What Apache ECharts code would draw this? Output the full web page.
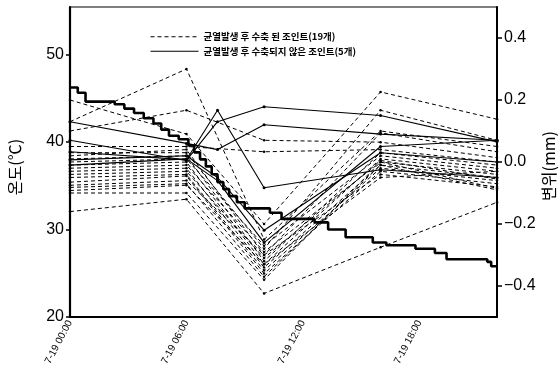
<!DOCTYPE html>
<html>
<head>
<meta charset="utf-8">
<script src="https://cdn.jsdelivr.net/npm/echarts@6/dist/echarts.min.js"></script>
<style>
  html, body { margin: 0; padding: 0; background: #fff; }
  #chart { width: 560px; height: 376px; }
</style>
</head>
<body>
<div id="chart"></div>
<script>
// Measurement hours (7-19 00:00 = 0)
const jointHours = [0, 6, 10, 16, 22];
const solidHours = [0, 6, 7.6, 10, 16, 22];

// Joint displacement (mm): shrank after cracking (19 joints)
const shrunkJoints = [
  [0.13, 0.30, -0.25, 0.10, 0.05],
  [0.20, 0.09, -0.20, 0.226, 0.138],
  [0.10, 0.167, 0.07, 0.064, 0.014],
  [0.05, 0.05, 0.033, 0.04, 0.0],
  [0.03, 0.03, -0.28, 0.167, 0.07],
  [0.02, 0.04, -0.30, 0.094, 0.033],
  [0.01, 0.02, -0.32, 0.03, -0.01],
  [0.0, 0.01, -0.27, 0.02, -0.02],
  [-0.01, 0.0, -0.33, 0.01, -0.03],
  [-0.02, -0.01, -0.29, 0.0, -0.04],
  [-0.03, -0.02, -0.34, -0.01, -0.05],
  [-0.04, -0.03, -0.31, 0.005, -0.055],
  [-0.05, -0.04, -0.35, -0.02, -0.06],
  [-0.065, -0.045, -0.36, -0.03, -0.07],
  [-0.075, -0.06, -0.30, -0.04, -0.08],
  [-0.082, -0.07, -0.37, -0.01, -0.09],
  [-0.092, -0.075, -0.33, -0.05, -0.03],
  [-0.10, -0.10, -0.38, 0.0, -0.085],
  [-0.16, -0.12, -0.424, -0.275, -0.13]
];

// Joint displacement (mm): did not shrink after cracking (5 joints)
const unshrunkJoints = [
  [0.13, 0.06, 0.04, 0.12, 0.09, 0.07],
  [0.07, 0.005, 0.13, 0.178, 0.15, 0.065],
  [0.033, 0.007, 0.167, -0.083, -0.025, -0.05],
  [0.007, 0.02, -0.05, -0.22, 0.03, 0.0],
  [-0.01, 0.01, -0.06, -0.26, 0.05, 0.07]
];

// Air temperature (°C), stepped record
const tempHours = [0.0, 0.4, 0.8, 2.3, 2.8, 3.3, 3.8, 4.3, 4.7, 5.1, 5.6, 6.1, 6.4, 6.7, 7.0, 7.3, 7.6, 7.9, 8.2, 8.6, 9.0,
                   10.3, 10.9, 12.6, 13.3, 14.2, 15.6, 16.3, 17.8, 18.8, 19.4, 21.5, 21.7, 22.0];
const tempValues = [46.2, 45.6, 44.6, 44.3, 43.8, 43.3, 42.7, 42.1, 41.4, 40.7, 40.3, 39.6, 38.8, 38.0, 37.2, 36.3, 35.4, 34.6, 33.8, 33.1, 32.4,
                    31.9, 31.2, 30.8, 30.0, 29.1, 28.5, 28.2, 27.8, 27.3, 26.6, 26.3, 25.8, 25.8];

const timeTicks = [0, 6, 12, 18];
const timeLabels = ['7-19 00:00', '7-19 06:00', '7-19 12:00', '7-19 18:00'];
const tempTicks = [20, 30, 40, 50];
const dispTicks = [-0.4, -0.2, 0.0, 0.2, 0.4];

const NAME_SHRUNK = '균열발생 후 수축 된 조인트(19개)';
const NAME_UNSHRUNK = '균열발생 후 수축되지 않은 조인트(5개)';

const zip = (xs, ys) => xs.map((x, i) => [x, ys[i]]);

const series = [];
shrunkJoints.forEach(vals => {
  series.push({
    name: NAME_SHRUNK, type: 'line', yAxisIndex: 1,
    data: zip(jointHours, vals),
    symbol: 'circle', symbolSize: 2.5,
    itemStyle: { color: '#000' },
    lineStyle: { color: '#000', width: 1, type: [4, 3] },
    silent: true, animation: false
  });
});
unshrunkJoints.forEach(vals => {
  series.push({
    name: NAME_UNSHRUNK, type: 'line', yAxisIndex: 1,
    data: zip(solidHours, vals),
    symbol: 'circle', symbolSize: 3,
    itemStyle: { color: '#000' },
    lineStyle: { color: '#000', width: 1.1 },
    silent: true, animation: false
  });
});
series.push({
  name: '온도', type: 'line', yAxisIndex: 0,
  data: zip(tempHours, tempValues),
  step: 'end', symbol: 'none',
  lineStyle: { color: '#000', width: 2.6 },
  silent: true, animation: false
});

const font = 'Liberation Sans, Arial, sans-serif';
const kfont = '"Noto Sans CJK KR", sans-serif';

const chart = echarts.init(document.getElementById('chart'), null, { renderer: 'canvas' });
chart.setOption({
  backgroundColor: '#fff',
  animation: false,
  grid: {
    left: 70, right: 63, top: 7, bottom: 59,
    containLabel: false, outerBoundsMode: 'none',
    show: true, borderColor: '#000', borderWidth: 1.2, backgroundColor: 'transparent'
  },
  legend: {
    data: [NAME_SHRUNK, NAME_UNSHRUNK],
    orient: 'vertical', left: 145, top: 27,
    itemWidth: 48, itemHeight: 8, itemGap: 5,
    itemStyle: { opacity: 0 },
    lineStyle: { width: 1 },
    textStyle: { fontFamily: kfont, fontSize: 9.5, color: '#000', fontWeight: 'bold' },
    selectedMode: false
  },
  xAxis: {
    type: 'value', min: 0, max: 22,
    splitLine: { show: false },
    axisLine: { onZero: false, lineStyle: { color: '#000', width: 2.2 } },
    axisTick: { show: false },
    axisLabel: {
      customValues: timeTicks,
      formatter: v => timeLabels[timeTicks.indexOf(v)] || '',
      rotate: 62, fontSize: 10, color: '#000', fontFamily: font, margin: 4
    }
  },
  yAxis: [
    {
      type: 'value', min: 20, max: 55.4, position: 'left',
      name: '온도(℃)', nameLocation: 'middle', nameGap: 47, nameRotate: 90,
      nameMoveOverlap: false,
      nameTextStyle: { fontFamily: kfont, fontSize: 16, color: '#000', padding: [0, 10, 0, 0] },
      splitLine: { show: false },
      axisLine: { show: true, onZero: false, lineStyle: { color: '#000', width: 2.2 } },
      axisTick: { show: true, customValues: tempTicks, length: 4, lineStyle: { color: '#000', width: 1.5 } },
      axisLabel: { customValues: tempTicks, fontSize: 16, color: '#000', fontFamily: font, margin: 6 }
    },
    {
      type: 'value', min: -0.5, max: 0.5, position: 'right',
      name: '변위(mm)', nameLocation: 'middle', nameGap: 44, nameRotate: 90,
      nameMoveOverlap: false,
      nameTextStyle: { fontFamily: kfont, fontSize: 16, color: '#000', padding: [0, 8, 0, 0] },
      splitLine: { show: false },
      axisLine: { show: true, onZero: false, lineStyle: { color: '#000', width: 2 } },
      axisTick: { show: true, customValues: dispTicks, length: 5, lineStyle: { color: '#000', width: 1.5 } },
      axisLabel: {
        customValues: dispTicks,
        formatter: v => (v < 0 ? '\u2212' : '') + Math.abs(v).toFixed(1),
        fontSize: 16, color: '#000', fontFamily: font, margin: 7
      }
    }
  ],
  series: series
});
</script>
</body>
</html>
